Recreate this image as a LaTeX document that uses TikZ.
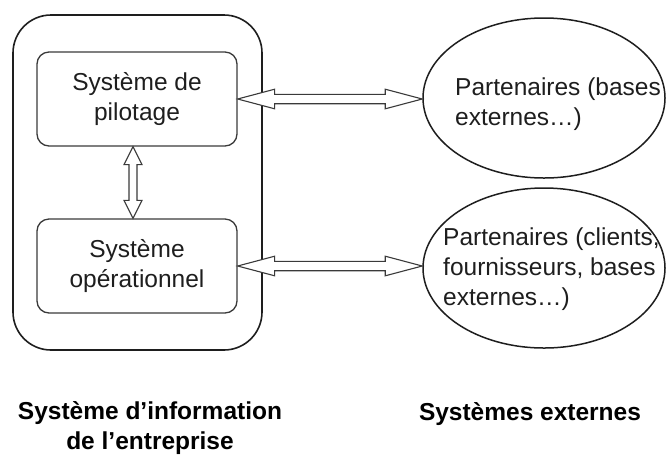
\documentclass[tikz,border=0pt]{standalone}
\usepackage{fontspec}
\setmainfont{Liberation Sans}
\usetikzlibrary{shapes.geometric,calc}
\definecolor{ink}{HTML}{1E1E1E}
\definecolor{rim}{HTML}{3A3A3A}

% hollow double-headed arrow between two points on a horizontal line
\newcommand\hpair[2]{%
  \draw[hollow] let \p1=(#1), \p2=(#2) in
    ({\x1},{\y1}) -- ({\x1+37pt},{\y1+9.8pt}) -- ({\x1+37pt},{\y1+4.7pt})
    -- ({\x2-37pt},{\y1+4.7pt}) -- ({\x2-37pt},{\y1+9.8pt}) -- ({\x2},{\y1})
    -- ({\x2-37pt},{\y1-9.8pt}) -- ({\x2-37pt},{\y1-4.7pt})
    -- ({\x1+37pt},{\y1-4.7pt}) -- ({\x1+37pt},{\y1-9.8pt}) -- cycle;}
% hollow double-headed arrow between two points on a vertical line
\newcommand\vpair[2]{%
  \draw[hollow] let \p1=(#1), \p2=(#2) in
    ({\x1},{\y1}) -- ({\x1+9pt},{\y1-18pt}) -- ({\x1+4pt},{\y1-18pt})
    -- ({\x1+4pt},{\y2+18pt}) -- ({\x1+9pt},{\y2+18pt}) -- ({\x1},{\y2})
    -- ({\x1-9pt},{\y2+18pt}) -- ({\x1-4pt},{\y2+18pt})
    -- ({\x1-4pt},{\y1-18pt}) -- ({\x1-9pt},{\y1-18pt}) -- cycle;}

\begin{document}
\begin{tikzpicture}[x=1pt,y=-1pt,
  every node/.style={font=\fontsize{24.5}{30}\selectfont, text=ink},
  outerbox/.style={draw=ink, line width=1.6pt, rounded corners=38pt,
    minimum width=249pt, minimum height=335pt, inner sep=0pt},
  subsys/.style={draw=rim, line width=1.3pt, rounded corners=12pt,
    minimum width=200pt, minimum height=94pt, align=center, inner sep=0pt},
  partner/.style={draw=ink, ellipse, line width=1.5pt,
    minimum width=242pt, minimum height=160pt, inner sep=0pt},
  ptext/.style={anchor=west, align=left, inner sep=0pt},
  caption/.style={font=\bfseries\fontsize{24.5}{29.5}\selectfont, text=black,
    align=center, inner sep=0pt},
  hollow/.style={draw=rim, line width=1.1pt, fill=white, line join=miter}
]
\useasboundingbox (0,0) rectangle (666,459);

% enterprise information system
\node[outerbox] (si) at (137.5,182.5) {};
\node[subsys] (pilot) at (137,99) {Système de\\pilotage};
\node[subsys] (ops) at (137,266) {Système\\opérationnel};

% external partners
\node[partner] (ext1) at (544,98) {};
\node[partner] (ext2) at (544,268) {};
\node[ptext] (ext1t) at (455,104) {Partenaires (bases\\externes…)};
\node[ptext] (ext2t) at (443,269) {Partenaires (clients,\\fournisseurs, bases\\externes…)};

% exchanges
\vpair{$(pilot.south)+(-4,0)$}{$(ops.north)+(-4,0)$}
\hpair{pilot.east}{ext1.west}
\hpair{ops.east}{ext2.west}

% captions
\node[caption] (capsi) at (150,428) {Système d’information\\de l’entreprise};
\node[caption] (capext) at (530,414) {Systèmes externes};
\end{tikzpicture}
\end{document}
